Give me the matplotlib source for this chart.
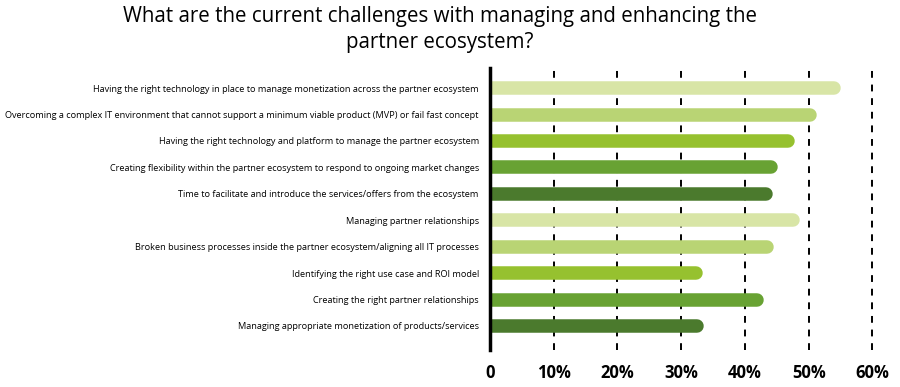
"""Partner ecosystem challenges - horizontal rounded bar chart."""

import matplotlib.pyplot as plt

categories = [
    "Having the right technology in place to manage monetization across the partner ecosystem",
    "Overcoming a complex IT environment that cannot support a minimum viable product (MVP) or fail fast concept",
    "Having the right technology and platform to manage the partner ecosystem",
    "Creating flexibility within the partner ecosystem to respond to ongoing market changes",
    "Time to facilitate and introduce the services/offers from the ecosystem",
    "Managing partner relationships",
    "Broken business processes inside the partner ecosystem/aligning all IT processes",
    "Identifying the right use case and ROI model",
    "Creating the right partner relationships",
    "Managing appropriate monetization of products/services",
]
values = [55.1, 51.3, 47.8, 45.2, 44.3, 48.6, 44.5, 33.4, 42.9, 33.6]
palette = ["#d8e5a6", "#b9d474", "#96c12f", "#68a233", "#4b7a2d"]
ticks = [0, 10, 20, 30, 40, 50, 60]
tick_labels = ["0", "10%", "20%", "30%", "40%", "50%", "60%"]

plt.rcParams["font.family"] = ["Open Sans", "DejaVu Sans"]

fig = plt.figure(figsize=(9, 3.87), dpi=100)
ax = fig.add_axes([0.5444, 0.0956, 0.432, 0.7287])

bar_px = 13.5
cap = 1.05  # round cap radius in data units
for i, (v, label) in enumerate(zip(values, categories)):
    color = palette[i % len(palette)]
    ax.plot([0, v - cap], [i, i], color=color, lw=bar_px * 72 / 100,
            solid_capstyle="round", zorder=3)

for t in ticks[1:]:
    ax.axvline(t, color="black", lw=1.4, ls=(0, (3.5, 3.5)), zorder=1)

ax.set_xlim(0, 61)
ax.set_ylim(len(values) - 1 + 0.91, -0.76)
ax.set_xticks(ticks)
ax.set_xticklabels(tick_labels, fontsize=12, fontweight="bold")
ax.set_yticks(range(len(categories)))
ax.set_yticklabels(categories, fontsize=6.6)
ax.tick_params(axis="both", length=0)
ax.tick_params(axis="y", pad=8)
ax.tick_params(axis="x", pad=10)

for side in ["top", "right", "bottom"]:
    ax.spines[side].set_visible(False)
ax.spines["left"].set_linewidth(2.5)
ax.spines["left"].set_zorder(4)

fig.text(0.489, 0.985,
         "What are the current challenges with managing and enhancing the\npartner ecosystem?",
         ha="center", va="top", fontsize=14.8, linespacing=1.3)

fig.savefig("out.png", dpi=100)
